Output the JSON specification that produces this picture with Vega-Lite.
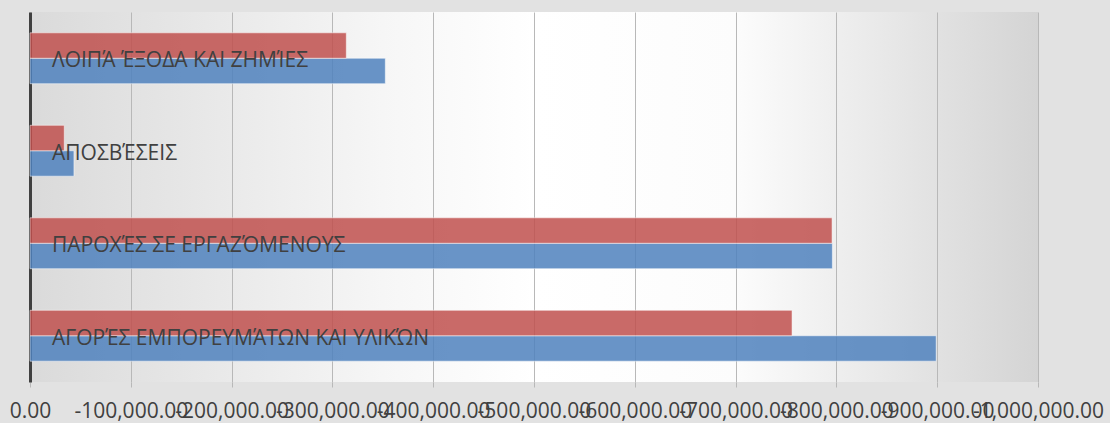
{
  "$schema": "https://vega.github.io/schema/vega-lite/v6.json",
  "width": 1008,
  "height": 370,
  "autosize": {"type": "none"},
  "padding": {"left": 30, "top": 12, "right": 72, "bottom": 41},
  "background": "#e2e2e2",
  "config": {
    "locale": {"number": {"decimal": ".", "thousands": ",", "grouping": [3], "currency": ["$", ""], "minus": "-"}},
    "view": {
      "stroke": null,
      "fill": {
        "gradient": "linear", "x1": 0, "y1": 0, "x2": 1, "y2": 0,
        "stops": [
          {"offset": 0, "color": "#dadada"},
          {"offset": 0.35, "color": "#f6f6f6"},
          {"offset": 0.5, "color": "#ffffff"},
          {"offset": 0.7, "color": "#fcfcfc"},
          {"offset": 0.85, "color": "#e8e8e8"},
          {"offset": 1, "color": "#d4d4d4"}
        ]
      }
    },
    "font": "Open Sans"
  },
  "datasets": {
    "bars": [
      {"cat": "ΛΟΙΠΆ ΈΞΟΔΑ ΚΑΙ ΖΗΜΊΕΣ", "series": "Σειρά 1", "value": -352500},
      {"cat": "ΛΟΙΠΆ ΈΞΟΔΑ ΚΑΙ ΖΗΜΊΕΣ", "series": "Σειρά 2", "value": -313800},
      {"cat": "ΑΠΟΣΒΈΣΕΙΣ", "series": "Σειρά 1", "value": -43600},
      {"cat": "ΑΠΟΣΒΈΣΕΙΣ", "series": "Σειρά 2", "value": -34000},
      {"cat": "ΠΑΡΟΧΈΣ ΣΕ ΕΡΓΑΖΌΜΕΝΟΥΣ", "series": "Σειρά 1", "value": -796000},
      {"cat": "ΠΑΡΟΧΈΣ ΣΕ ΕΡΓΑΖΌΜΕΝΟΥΣ", "series": "Σειρά 2", "value": -795700},
      {"cat": "ΑΓΟΡΈΣ ΕΜΠΟΡΕΥΜΆΤΩΝ ΚΑΙ ΥΛΙΚΏΝ", "series": "Σειρά 1", "value": -899000},
      {"cat": "ΑΓΟΡΈΣ ΕΜΠΟΡΕΥΜΆΤΩΝ ΚΑΙ ΥΛΙΚΏΝ", "series": "Σειρά 2", "value": -756000}
    ],
    "cats": [
      {"cat": "ΛΟΙΠΆ ΈΞΟΔΑ ΚΑΙ ΖΗΜΊΕΣ"},
      {"cat": "ΑΠΟΣΒΈΣΕΙΣ"},
      {"cat": "ΠΑΡΟΧΈΣ ΣΕ ΕΡΓΑΖΌΜΕΝΟΥΣ"},
      {"cat": "ΑΓΟΡΈΣ ΕΜΠΟΡΕΥΜΆΤΩΝ ΚΑΙ ΥΛΙΚΏΝ"}
    ]
  },
  "layer": [
    {
      "data": {"name": "bars"},
      "mark": {"type": "bar", "fillOpacity": 0.85, "stroke": "#ffffff", "strokeOpacity": 0.5, "strokeWidth": 1},
      "encoding": {
        "y": {
          "field": "cat", "type": "nominal", "sort": null,
          "scale": {"paddingInner": 0.45, "paddingOuter": 0.225},
          "axis": {"title": null, "labels": false, "ticks": false, "grid": false, "domain": true, "domainColor": "#404040", "domainWidth": 3}
        },
        "yOffset": {"field": "series", "type": "nominal", "sort": ["Σειρά 2", "Σειρά 1"]},
        "x": {
          "field": "value", "type": "quantitative",
          "scale": {"domain": [0, -1000000], "nice": false, "zero": false},
          "axis": {
            "title": null,
            "values": [0, -100000, -200000, -300000, -400000, -500000, -600000, -700000, -800000, -900000, -1000000],
            "format": ",.2f",
            "labelExpr": "replace(datum.label, '\u2212', '-')",
            "grid": true, "gridColor": "#b8b8b8", "gridWidth": 1,
            "domain": false,
            "ticks": true, "tickColor": "#b8b8b8", "tickSize": 5,
            "labelFont": "Open Sans", "labelFontSize": 21, "labelColor": "#404040",
            "labelPadding": 13, "labelOverlap": false, "labelFlush": false, "labelBound": false
          }
        },
        "color": {
          "field": "series", "type": "nominal",
          "scale": {"domain": ["Σειρά 1", "Σειρά 2"], "range": ["#4f81bd", "#c0504d"]},
          "legend": null
        }
      }
    },
    {
      "data": {"name": "cats"},
      "mark": {"type": "text", "align": "left", "baseline": "middle", "dx": 22, "dy": 3, "font": "Open Sans", "fontSize": 21, "color": "#404040"},
      "encoding": {
        "y": {"field": "cat", "type": "nominal", "sort": null},
        "x": {"datum": 0},
        "text": {"field": "cat"}
      }
    }
  ]
}
